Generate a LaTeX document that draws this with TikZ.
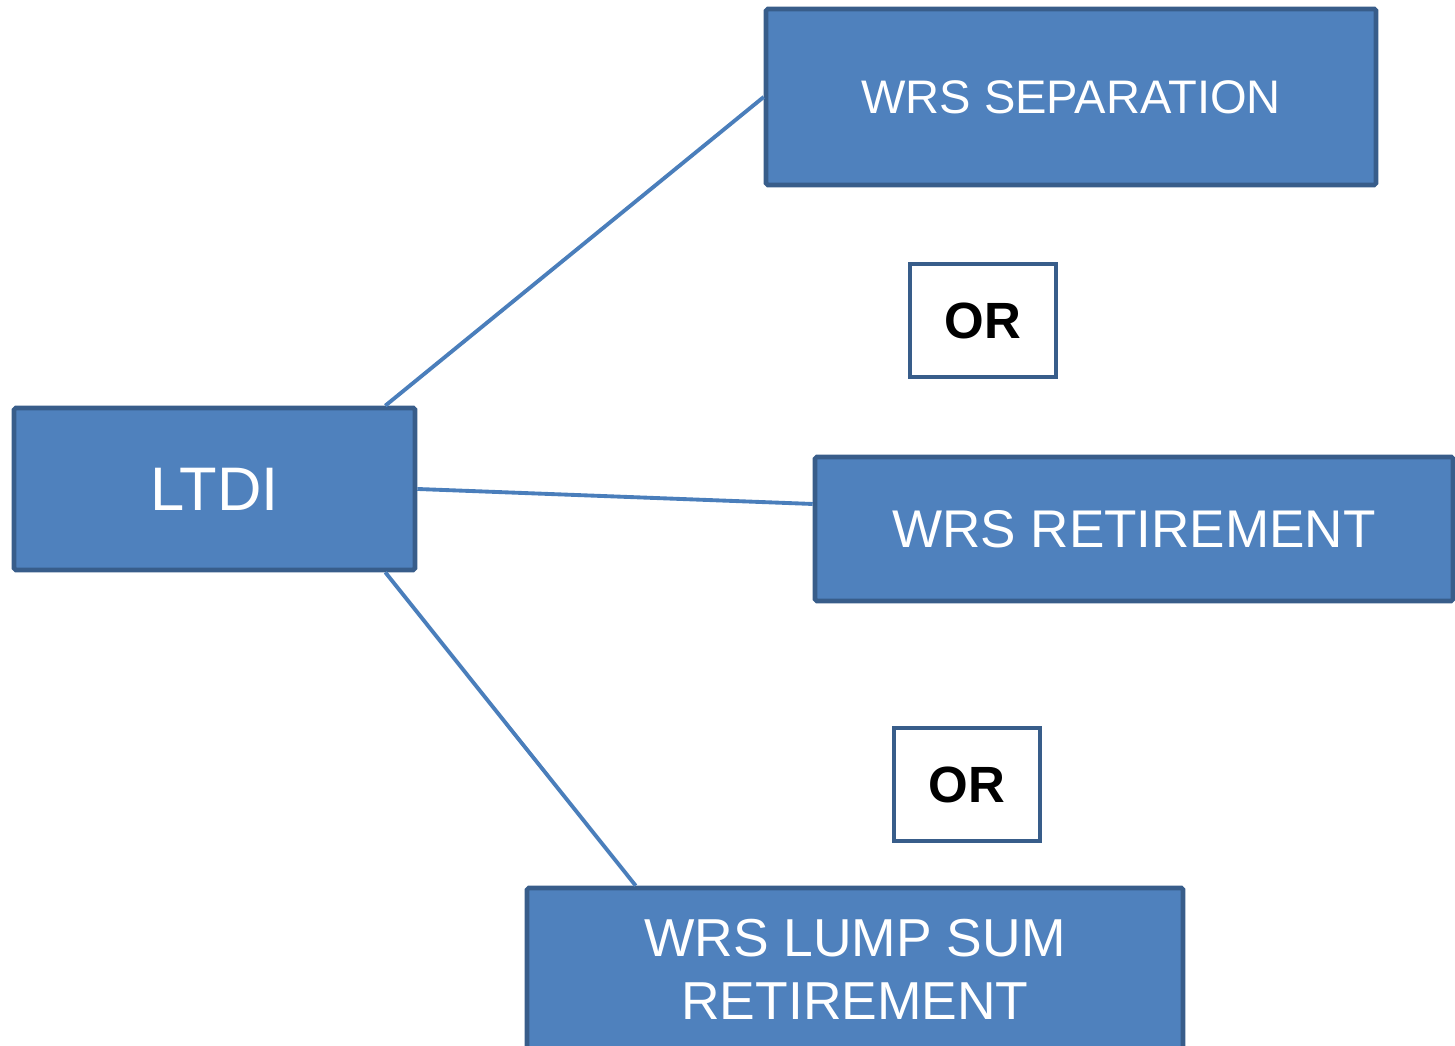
\documentclass[tikz,border=0pt]{standalone}
\usepackage{fontspec}
\setmainfont{Liberation Sans}
\definecolor{boxfill}{HTML}{4F81BD}
\definecolor{boxline}{HTML}{385D8A}
\definecolor{linkline}{HTML}{4A7EBB}
\tikzset{
  wrsbox/.style={draw=boxline,fill=boxfill,line width=1.3pt,text=white,inner sep=0,rounded corners=0.5pt},
  orbox/.style={draw=boxline,fill=white,line width=1.3pt,inner sep=0,minimum width=1.46cm,minimum height=1.13cm,font=\fontsize{14.5}{16}\selectfont\bfseries},
  link/.style={draw=linkline,line width=1.1pt}
}
\begin{document}
\begin{tikzpicture}
    \useasboundingbox (0, 0) rectangle (14.55, 10.46);
    \clip (0, 0) rectangle (14.55, 10.46);

    \node[wrsbox,minimum width=6.10cm,minimum height=1.76cm,font=\fontsize{13.4}{16}\selectfont](sep) at (10.71, 9.49) {WRS SEPARATION};
    \node[orbox](or1) at (9.83, 7.255) {OR};
    \node[wrsbox,minimum width=4.01cm,minimum height=1.62cm,font=\fontsize{17.5}{20}\selectfont](ltdi) at (2.145, 5.57) {LTDI};
    \node[wrsbox,minimum width=6.38cm,minimum height=1.44cm,font=\fontsize{15.1}{18}\selectfont](ret) at (11.34, 5.17) {WRS RETIREMENT};
    \node[orbox](or2) at (9.67, 2.615) {OR};
    \node[wrsbox,minimum width=6.56cm,minimum height=1.62cm,align=center,font=\fontsize{15.2}{17.9}\selectfont](lump) at (8.55, 0.77) {WRS LUMP SUM\\RETIREMENT};

    \draw[link] ([xshift=-0.32cm]ltdi.north east) -- (sep.west);
    \draw[link] (ltdi.east) -- ([yshift=0.25cm]ret.west);
    \draw[link] ([xshift=-0.32cm]ltdi.south east) -- ([xshift=1.11cm]lump.north west);
\end{tikzpicture}
\end{document}
